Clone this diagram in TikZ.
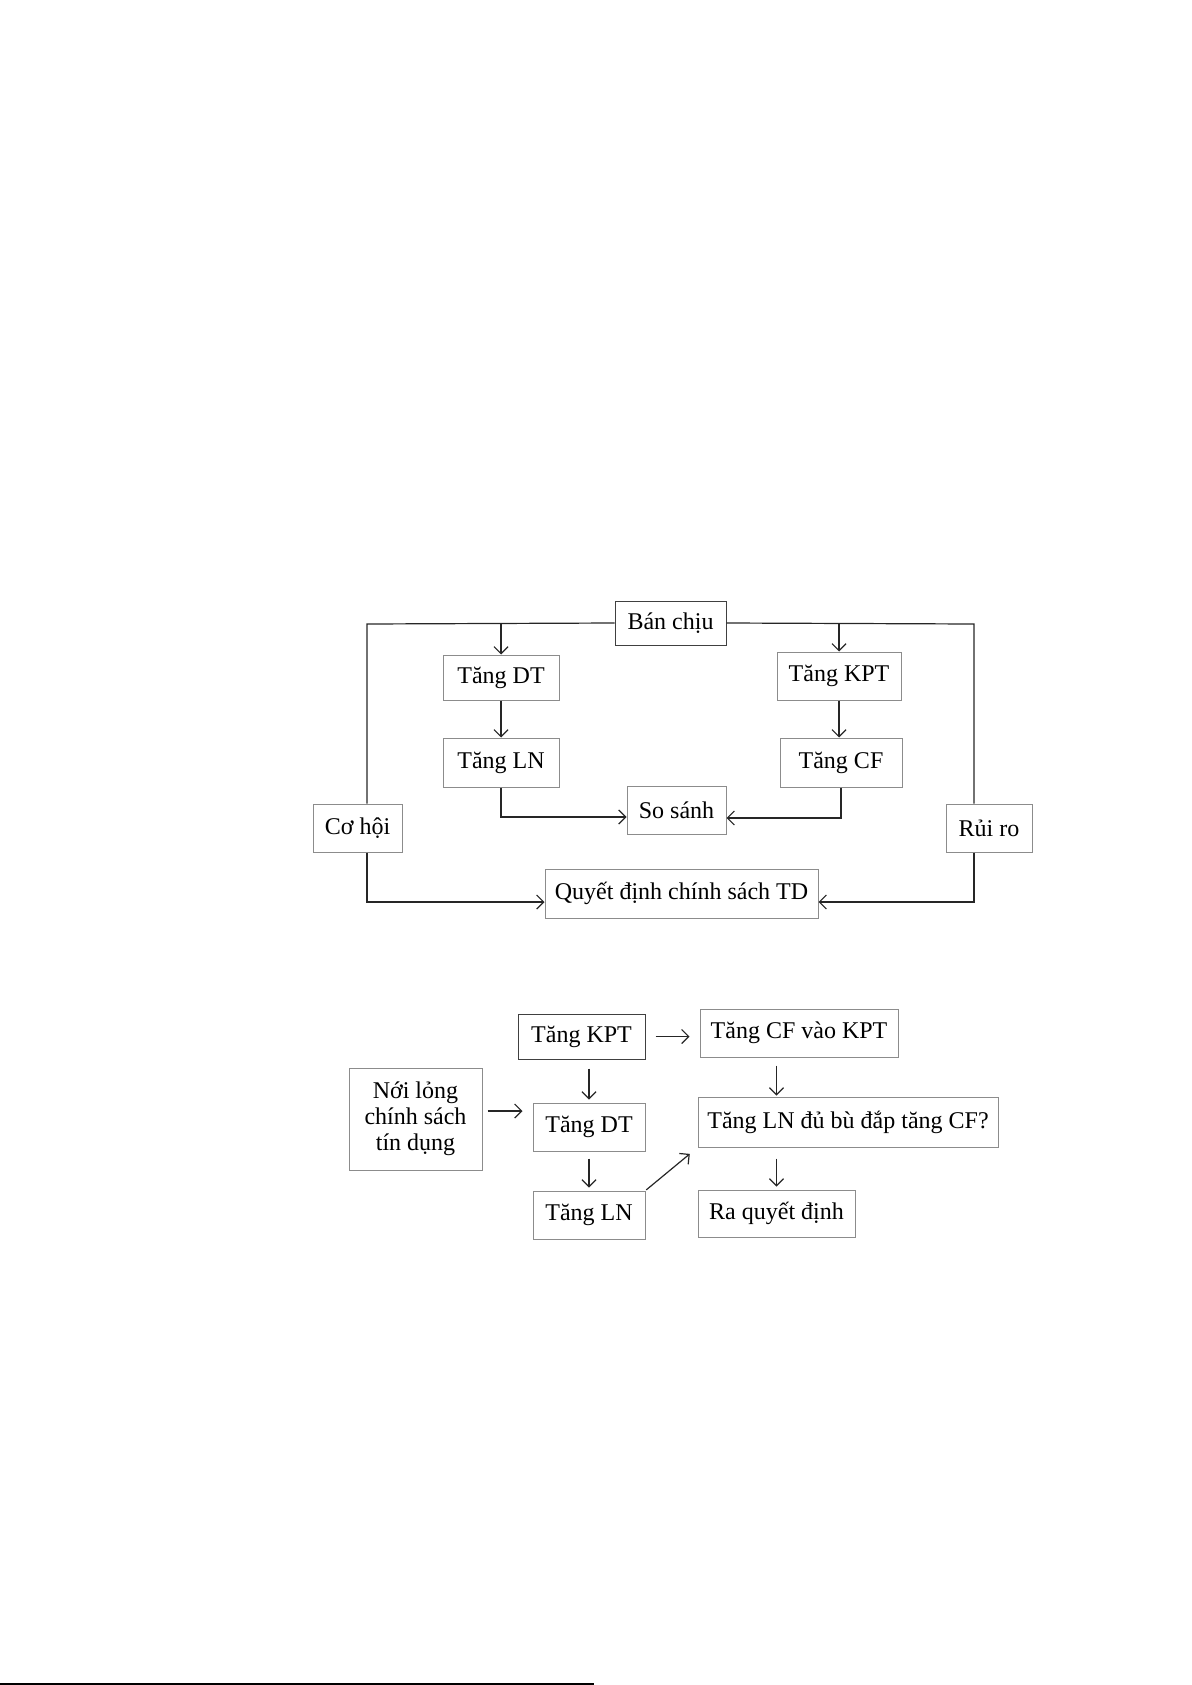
\documentclass[tikz,border=0pt]{standalone}
\usepackage{fontspec}
\setmainfont{Liberation Serif}
\usetikzlibrary{arrows.meta}
\begin{document}
\begin{tikzpicture}[x=0.5pt,y=-0.5pt,
  every node/.style={font=\fontsize{12}{13}\selectfont},
  lbox/.style={draw=black!45,line width=0.5pt,inner sep=0pt,align=center},
  dbox/.style={draw=black!75,line width=0.5pt,inner sep=0pt,align=center},
  conn/.style={line width=0.6pt,draw=black!85},
  arr/.style={conn,-{Straight Barb[length=3.5pt,width=7pt]}}]
\useasboundingbox (0,0) rectangle (1191,1685);
% ---------- first diagram ----------
\node[dbox,minimum width=55.5pt,minimum height=22pt] (ban) at (670.5,623) {Bán chịu};
\node[lbox,minimum width=58pt,minimum height=22.5pt] (dt1) at (501,677.5) {Tăng DT};
\node[lbox,minimum width=58pt,minimum height=24.5pt] (ln1) at (501,762.5) {Tăng LN};
\node[lbox,minimum width=62pt,minimum height=24pt] (kpt1) at (839,676) {Tăng KPT};
\node[lbox,minimum width=61pt,minimum height=24.5pt] (cf1) at (841,762.5) {Tăng CF};
\node[lbox,minimum width=49.5pt,minimum height=24pt] (ss) at (676.5,810) {So sánh};
\node[lbox,minimum width=44.5pt,minimum height=24pt] (coh) at (357.5,828) {Cơ hội};
\node[lbox,minimum width=43pt,minimum height=24pt] (rui) at (989,828) {Rủi ro};
\node[lbox,minimum width=136.5pt,minimum height=24.5pt] (qd) at (681.5,893.5) {Quyết định chính sách TD};
\coordinate (TL) at (367,624);
\coordinate (BL) at (367,902);
\coordinate (TR) at (974,624);
\coordinate (BR) at (974,902);
\draw[conn] (ban.west) -- (TL) -- (TL |- coh.north);
\draw[arr] (TL |- coh.south) -- (BL) -- (BL -| qd.west);
\draw[conn] (ban.east) -- (TR) -- (TR |- rui.north);
\draw[arr] (TR |- rui.south) -- (BR) -- (BR -| qd.east);
\draw[arr] (dt1.north |- TL) -- (dt1.north);
\draw[arr] (dt1.south) -- (ln1.north);
\draw[arr] (kpt1.north |- TR) -- (kpt1.north);
\draw[arr] (kpt1.south) -- (kpt1.south |- cf1.north);
\draw[arr] (ln1.south) |- ([yshift=-3.5pt]ss.west);
\draw[arr] (cf1.south) |- ([yshift=-4pt]ss.east);
% ---------- second diagram ----------
\node[dbox,minimum width=63.5pt,minimum height=22.5pt] (kpt2) at (581.5,1036.5) {Tăng KPT};
\node[lbox,minimum width=99pt,minimum height=24pt] (cfk) at (799,1033) {Tăng CF vào KPT};
\node[lbox,minimum width=66.5pt,minimum height=51pt] (nl) at (415.5,1119) {Nới lỏng\\chính sách\\tín dụng};
\node[lbox,minimum width=56pt,minimum height=24pt] (dt2) at (589,1127) {Tăng DT};
\node[lbox,minimum width=56pt,minimum height=24pt] (ln2) at (589,1215) {Tăng LN};
\node[lbox,minimum width=150pt,minimum height=25pt] (lnd) at (848,1122) {Tăng LN đủ bù đắp tăng CF?};
\node[lbox,minimum width=78.5pt,minimum height=23.5pt] (ra) at (776.5,1213.5) {Ra quyết định};
\draw[arr,shorten <=5pt,shorten >=5pt] (kpt2.east) -- (kpt2.east -| cfk.west);
\draw[arr,shorten <=2.5pt,shorten >=5pt] ([yshift=4pt]nl.east) -- ([yshift=4pt]nl.east -| dt2.west);
\draw[arr,shorten <=4.5pt,shorten >=1.5pt] (dt2.north |- kpt2.south) -- (dt2.north);
\draw[arr,shorten <=3.5pt,shorten >=1.5pt] (dt2.south) -- (ln2.north);
\draw[arr,shorten <=0.5pt,shorten >=5pt] (ln2.north east) -- (lnd.south west);
\draw[arr,shorten <=4pt,shorten >=0.5pt] (ra.north |- cfk.south) -- (ra.north |- lnd.north);
\draw[arr,shorten <=5.5pt,shorten >=1.5pt] (ra.north |- lnd.south) -- (ra.north);
% page rule at bottom
\coordinate (P0) at (0,1684);
\coordinate (P1) at (594,1684);
\draw[line width=0.6pt] (P0) -- (P1);
\end{tikzpicture}
\end{document}
